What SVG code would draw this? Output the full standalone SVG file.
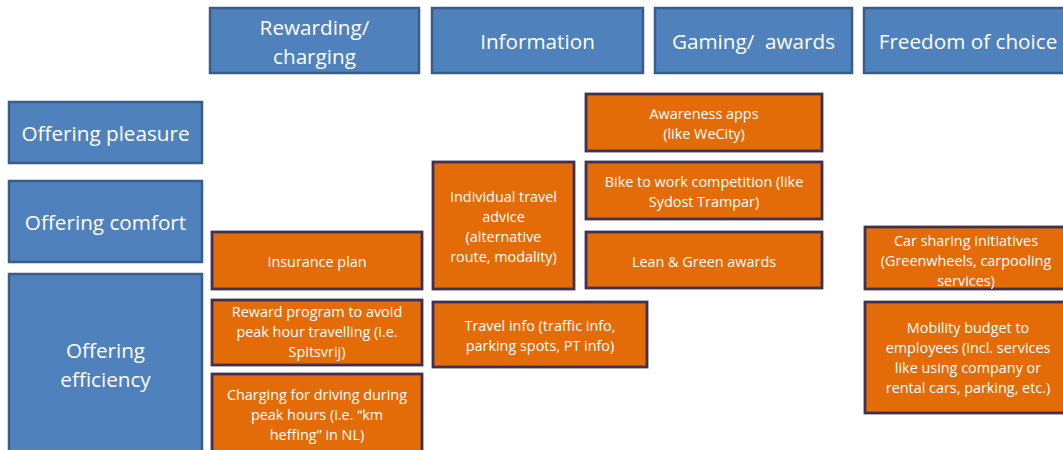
<svg xmlns="http://www.w3.org/2000/svg" width="1063" height="450" viewBox="0 0 1063 450">
<style>
.b{fill:#4F81BD;stroke:#385D8A;stroke-width:2.5}
.o{fill:#E36C09;stroke:#3F3151;stroke-width:2.8}
.bt{font-family:"Open Sans",sans-serif;font-size:20.7px;fill:#fff;text-anchor:middle;dominant-baseline:central;white-space:pre}
.ot{font-family:"Open Sans",sans-serif;font-size:14.4px;fill:#fff;text-anchor:middle;dominant-baseline:central}
</style>
<rect width="1063" height="450" fill="#fff"/>
<g id="col-rewarding"><rect class="b" x="210" y="8" width="209" height="65"/><text class="bt" x="314.5" y="27">Rewarding/</text><text class="bt" x="314.5" y="56">charging</text></g>
<g id="col-information"><rect class="b" x="432" y="8" width="211" height="65"/><text class="bt" x="537.5" y="41">Information</text></g>
<g id="col-gaming"><rect class="b" x="655" y="8" width="197" height="65"/><text class="bt" x="753.5" y="41" xml:space="preserve">Gaming/  awards</text></g>
<g id="col-freedom"><rect class="b" x="864" y="8" width="210" height="65"/><text class="bt" x="968" y="41">Freedom of choice</text></g>
<g id="row-pleasure"><rect class="b" x="9" y="102" width="193" height="61"/><text class="bt" x="105.5" y="133">Offering pleasure</text></g>
<g id="row-comfort"><rect class="b" x="9" y="181" width="193" height="81"/><text class="bt" x="105.5" y="222">Offering comfort</text></g>
<g id="row-efficiency"><rect class="b" x="9" y="274" width="193" height="190"/><text class="bt" x="105.5" y="350">Offering</text><text class="bt" x="105.5" y="379">efficiency</text></g>
<g id="insurance"><rect class="o" x="212" y="232" width="210" height="57"/><text class="ot" x="317" y="261">Insurance plan</text></g>
<g id="reward"><rect class="o" x="212" y="300" width="210" height="65"/><text class="ot" x="317" y="311">Reward program to avoid</text><text class="ot" x="317" y="331">peak hour travelling (i.e.</text><text class="ot" x="317" y="351">Spitsvrij)</text></g>
<g id="charging"><rect class="o" x="212" y="374" width="210" height="90"/><text class="ot" x="317" y="394">Charging for driving during</text><text class="ot" x="317" y="414">peak hours (i.e. “km</text><text class="ot" x="317" y="434">heffing” in NL)</text></g>
<g id="travel-advice"><rect class="o" x="433" y="162" width="141" height="127"/><text class="ot" x="503.5" y="196">Individual travel</text><text class="ot" x="503.5" y="216">advice</text><text class="ot" x="503.5" y="236">(alternative</text><text class="ot" x="503.5" y="256">route, modality)</text></g>
<g id="travel-info"><rect class="o" x="433" y="302" width="214" height="65"/><text class="ot" x="540" y="325">Travel info (traffic info,</text><text class="ot" x="540" y="345">parking spots, PT info)</text></g>
<g id="awareness"><rect class="o" x="586" y="94" width="236" height="57"/><text class="ot" x="704" y="113">Awareness apps</text><text class="ot" x="704" y="133">(like WeCity)</text></g>
<g id="bike"><rect class="o" x="586" y="162" width="236" height="57"/><text class="ot" x="704" y="181">Bike to work competition (like</text><text class="ot" x="704" y="201">Sydost Trampar)</text></g>
<g id="lean"><rect class="o" x="586" y="232" width="236" height="56"/><text class="ot" x="704" y="261">Lean &amp; Green awards</text></g>
<g id="carsharing"><rect class="o" x="865" y="227" width="210" height="62"/><text class="ot" x="966" y="240">Car sharing initiatives</text><text class="ot" x="966" y="260">(Greenwheels, carpooling</text><text class="ot" x="966" y="280">services)</text></g>
<g id="mobility"><rect class="o" x="865" y="302" width="210" height="111"/><text class="ot" x="968" y="327">Mobility budget to</text><text class="ot" x="968" y="347">employees (incl. services</text><text class="ot" x="968" y="367">like using company or</text><text class="ot" x="968" y="387">rental cars, parking, etc.)</text></g>
<g id="connectors"/>
</svg>
